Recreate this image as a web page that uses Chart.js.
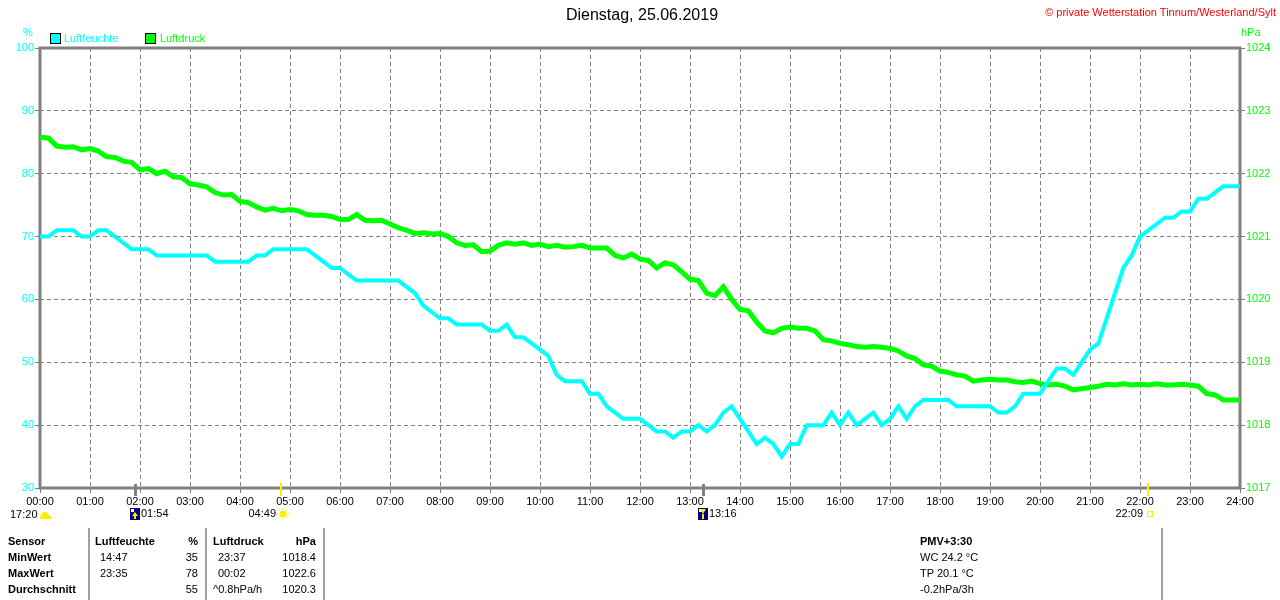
<!DOCTYPE html>
<html>
<head>
<meta charset="utf-8">
<script src="https://cdn.jsdelivr.net/npm/chart.js@4"></script>
<style>
  body { margin: 0; background: #fff; }
  #wrap { position: relative; width: 1280px; height: 600px; font-family: "Liberation Sans", Arial, sans-serif; font-size: 11px; }
  #wrap canvas { position: absolute; left: 0; top: 0; }
  .t { position: absolute; white-space: nowrap; line-height: 16px; }
  .b { font-weight: bold; }
  .r { text-align: right; }
  .sep { position: absolute; top: 528px; width: 2px; height: 72px; background: #a0a0a0; }
  .box { position: absolute; width: 9px; height: 9px; border: 1px solid #000; }
</style>
</head>
<body>
<div id="wrap">
  <canvas id="chart" width="1280" height="600"></canvas>

  <div class="t" style="left:0;width:1284px;top:6px;text-align:center;font-size:16px;line-height:18px;">Dienstag, 25.06.2019</div>
  <div class="t" style="right:4px;top:4px;color:#ff0000;">© private Wetterstation Tinnum/Westerland/Sylt</div>

  <div class="t" style="left:23px;top:24px;color:#00ffff;">%</div>
  <div class="t" style="left:1241px;top:24px;color:#00ff00;">hPa</div>

  <div class="box" style="left:50px;top:33px;background:#00ffff;"></div>
  <div class="t" style="left:64px;top:30px;color:#00ffff;">Luftfeuchte</div>
  <div class="box" style="left:145px;top:33px;background:#00ff00;"></div>
  <div class="t" style="left:160px;top:30px;color:#00ff00;">Luftdruck</div>

  <div class="t" style="left:10px;top:506px;">17:20</div>

  <div class="sep" style="left:88px;"></div>
  <div class="sep" style="left:205px;"></div>
  <div class="sep" style="left:323px;"></div>
  <div class="sep" style="left:1161px;"></div>

  <div class="t b" style="left:8px;top:533px;">Sensor</div>
  <div class="t b" style="left:8px;top:549px;">MinWert</div>
  <div class="t b" style="left:8px;top:565px;">MaxWert</div>
  <div class="t b" style="left:8px;top:581px;">Durchschnitt</div>

  <div class="t b" style="left:95px;top:533px;">Luftfeuchte</div>
  <div class="t b r" style="left:150px;width:48px;top:533px;">%</div>
  <div class="t" style="left:100px;top:549px;">14:47</div>
  <div class="t r" style="left:150px;width:48px;top:549px;">35</div>
  <div class="t" style="left:100px;top:565px;">23:35</div>
  <div class="t r" style="left:150px;width:48px;top:565px;">78</div>
  <div class="t r" style="left:150px;width:48px;top:581px;">55</div>

  <div class="t b" style="left:213px;top:533px;">Luftdruck</div>
  <div class="t b r" style="left:260px;width:56px;top:533px;">hPa</div>
  <div class="t" style="left:218px;top:549px;">23:37</div>
  <div class="t r" style="left:260px;width:56px;top:549px;">1018.4</div>
  <div class="t" style="left:218px;top:565px;">00:02</div>
  <div class="t r" style="left:260px;width:56px;top:565px;">1022.6</div>
  <div class="t" style="left:213px;top:581px;">^0.8hPa/h</div>
  <div class="t r" style="left:260px;width:56px;top:581px;">1020.3</div>

  <div class="t b" style="left:920px;top:533px;">PMV+3:30</div>
  <div class="t" style="left:920px;top:549px;">WC 24.2 °C</div>
  <div class="t" style="left:920px;top:565px;">TP 20.1 °C</div>
  <div class="t" style="left:920px;top:581px;">-0.2hPa/3h</div>
</div>

<script>
// readings every 10 minutes, 00:00 .. 24:00
const STEP_MIN = 10;

const humidity = [
  70, 70, 71, 71, 71, 70,   // 00
  70, 71, 71, 70, 69, 68,   // 01
  68, 68, 67, 67, 67, 67,   // 02
  67, 67, 67, 66, 66, 66,   // 03
  66, 66, 67, 67, 68, 68,   // 04
  68, 68, 68, 67, 66, 65,   // 05
  65, 64, 63, 63, 63, 63,   // 06
  63, 63, 62, 61, 59, 58,   // 07
  57, 57, 56, 56, 56, 56,   // 08
  55, 55, 56, 54, 54, 53,   // 09
  52, 51, 48, 47, 47, 47,   // 10
  45, 45, 43, 42, 41, 41,   // 11
  41, 40, 39, 39, 38, 39,   // 12
  39, 40, 39, 40, 42, 43,   // 13
  41, 39, 37, 38, 37, 35,   // 14
  37, 37, 40, 40, 40, 42,   // 15
  40, 42, 40, 41, 42, 40,   // 16
  41, 43, 41, 43, 44, 44,   // 17
  44, 44, 43, 43, 43, 43,   // 18
  43, 42, 42, 43, 45, 45,   // 19
  45, 47, 49, 49, 48, 50,   // 20
  52, 53, 57, 61, 65, 67,   // 21
  70, 71, 72, 73, 73, 74,   // 22
  74, 76, 76, 77, 78, 78,   // 23
  78
];

const pressure = [
  1022.58, 1022.57, 1022.44, 1022.42, 1022.43, 1022.38,   // 00
  1022.40, 1022.36, 1022.27, 1022.26, 1022.20, 1022.18,   // 01
  1022.06, 1022.08, 1022.00, 1022.04, 1021.95, 1021.94,   // 02
  1021.84, 1021.82, 1021.79, 1021.70, 1021.66, 1021.67,   // 03
  1021.56, 1021.54, 1021.47, 1021.42, 1021.45, 1021.41,   // 04
  1021.43, 1021.41, 1021.35, 1021.34, 1021.34, 1021.32,   // 05
  1021.27, 1021.27, 1021.35, 1021.26, 1021.25, 1021.26,   // 06
  1021.20, 1021.14, 1021.10, 1021.05, 1021.06, 1021.04,   // 07
  1021.05, 1021.00, 1020.90, 1020.86, 1020.87, 1020.76,   // 08
  1020.77, 1020.86, 1020.90, 1020.88, 1020.90, 1020.86,   // 09
  1020.88, 1020.84, 1020.86, 1020.83, 1020.84, 1020.86,   // 10
  1020.82, 1020.82, 1020.82, 1020.70, 1020.66, 1020.72,   // 11
  1020.64, 1020.62, 1020.50, 1020.58, 1020.55, 1020.44,   // 12
  1020.32, 1020.30, 1020.10, 1020.06, 1020.20, 1020.00,   // 13
  1019.84, 1019.82, 1019.64, 1019.50, 1019.47, 1019.54,   // 14
  1019.56, 1019.54, 1019.54, 1019.50, 1019.36, 1019.34,   // 15
  1019.30, 1019.28, 1019.25, 1019.24, 1019.25, 1019.24,   // 16
  1019.22, 1019.18, 1019.10, 1019.06, 1018.96, 1018.94,   // 17
  1018.86, 1018.84, 1018.80, 1018.78, 1018.70, 1018.72,   // 18
  1018.73, 1018.72, 1018.72, 1018.69, 1018.68, 1018.70,   // 19
  1018.66, 1018.64, 1018.65, 1018.62, 1018.56, 1018.58,   // 20
  1018.60, 1018.62, 1018.65, 1018.64, 1018.66, 1018.64,   // 21
  1018.65, 1018.64, 1018.66, 1018.64, 1018.64, 1018.65,   // 22
  1018.64, 1018.62, 1018.50, 1018.48, 1018.40, 1018.40,   // 23
  1018.40
];

const hourLabels = [
  '00:00', '01:00', '02:00', '03:00', '04:00', '05:00', '06:00', '07:00', '08:00',
  '09:00', '10:00', '11:00', '12:00', '13:00', '14:00', '15:00', '16:00', '17:00',
  '18:00', '19:00', '20:00', '21:00', '22:00', '23:00', '24:00'
];

// moon / sun rise and set, minutes after midnight
const eventMinutes = [114, 289, 796, 1329];
const eventLabels = ['01:54', '04:49', '13:16', '22:09'];
const eventKinds = ['moonrise', 'sunrise', 'moonset', 'sunset'];

const toPoints = arr => arr.map((v, i) => ({ x: i * STEP_MIN, y: v }));

const frameAndMarkers = {
    id: 'frameAndMarkers',
    beforeDatasetsDraw(chart) {
        const { ctx, chartArea: a } = chart;
        ctx.save();
        ctx.strokeStyle = '#808080';
        ctx.lineWidth = 3;
        ctx.strokeRect(a.left, a.top, a.right - a.left, a.bottom - a.top);
        ctx.restore();
    },
    afterDraw(chart) {
        const { ctx, chartArea: a } = chart;
        const xs = chart.scales.x;
        ctx.save();
        ctx.font = '11px "Liberation Sans", Arial, sans-serif';
        ctx.textBaseline = 'middle';
        ctx.fillStyle = '#000';

        // little cloud next to 17:20
        ctx.fillStyle = '#ffee00';
        ctx.beginPath();
        ctx.arc(a.left + 5, a.bottom + 28, 4, Math.PI, 0);
        ctx.fill();
        ctx.fillRect(a.left, a.bottom + 28, 11, 3);

        eventKinds.forEach((kind, i) => {
            const x = Math.round(xs.getPixelForValue(eventMinutes[i]));
            const ly = a.bottom + 26;
            if (kind.startsWith('moon')) {
                ctx.fillStyle = '#808080';
                ctx.fillRect(x - 1, a.bottom - 4, 3, 12);
                ctx.fillStyle = '#000080';
                ctx.fillRect(x - 5, ly - 6, 10, 12);
                ctx.fillStyle = '#ffffff';
                ctx.fillRect(x - 4, ly - 5, 3, 3);
                ctx.fillStyle = '#ffee00';
                ctx.beginPath();
                if (kind === 'moonrise') {
                    ctx.moveTo(x, ly - 2); ctx.lineTo(x - 3, ly + 2); ctx.lineTo(x + 3, ly + 2);
                } else {
                    ctx.moveTo(x - 3, ly - 5); ctx.lineTo(x + 3, ly - 5); ctx.lineTo(x, ly);
                }
                ctx.fill();
                ctx.fillRect(x - 1, ly, 2, 5);
                ctx.fillStyle = '#000';
                ctx.textAlign = 'left';
                ctx.fillText(eventLabels[i], x + 6, ly);
            } else {
                ctx.fillStyle = '#ffee00';
                ctx.fillRect(x - 1, a.bottom - 5, 2, 13);
                if (kind === 'sunrise') {
                    ctx.beginPath();
                    ctx.arc(x + 2, ly, 3.5, 0, Math.PI * 2);
                    ctx.fill();
                    ctx.strokeStyle = '#ffee00';
                    ctx.lineWidth = 1;
                    for (let k = 0; k < 8; k++) {
                        const ang = k * Math.PI / 4;
                        ctx.beginPath();
                        ctx.moveTo(x + 2 + Math.cos(ang) * 4.5, ly + Math.sin(ang) * 4.5);
                        ctx.lineTo(x + 2 + Math.cos(ang) * 6, ly + Math.sin(ang) * 6);
                        ctx.stroke();
                    }
                } else {
                    ctx.strokeStyle = '#ffee00';
                    ctx.lineWidth = 1;
                    ctx.strokeRect(x - 0.5, ly - 2.5, 5, 5);
                }
                ctx.fillStyle = '#000';
                ctx.textAlign = 'right';
                ctx.fillText(eventLabels[i], x - 5, ly);
            }
        });
        ctx.restore();
    }
};

const tickFont = { family: '"Liberation Sans", Arial, sans-serif', size: 11 };

new Chart(document.getElementById('chart').getContext('2d'), {
    type: 'line',
    data: {
        datasets: [{
            label: 'Luftfeuchte',
            data: toPoints(humidity),
            yAxisID: 'yH',
            borderColor: '#00ffff',
            borderWidth: 4,
            borderJoinStyle: 'miter',
            pointRadius: 0
        }, {
            label: 'Luftdruck',
            data: toPoints(pressure),
            yAxisID: 'yP',
            borderColor: '#00ff00',
            borderWidth: 5,
            borderJoinStyle: 'miter',
            pointRadius: 0
        }]
    },
    options: {
        responsive: false,
        animation: false,
        devicePixelRatio: 1,
        layout: { padding: { top: 48, left: 0, right: 0, bottom: 0 } },
        plugins: {
            legend: { display: false },
            tooltip: { enabled: false }
        },
        scales: {
            x: {
                type: 'linear',
                min: 0,
                max: 1440,
                afterFit: s => { s.height = 112; },
                ticks: {
                    stepSize: 60,
                    autoSkip: false,
                    maxRotation: 0,
                    color: '#000',
                    font: tickFont,
                    padding: 2,
                    callback: v => hourLabels[v / 60]
                },
                grid: {
                    color: '#808080',
                    tickLength: 5,
                    tickBorderDash: []
                },
                border: { display: false, dash: [4, 3] }
            },
            yH: {
                position: 'left',
                min: 30,
                max: 100,
                afterFit: s => { s.width = 40; },
                ticks: {
                    stepSize: 10,
                    color: '#00ffff',
                    font: tickFont,
                    padding: 1
                },
                grid: {
                    color: '#808080',
                    tickLength: 5,
                    tickBorderDash: []
                },
                border: { display: false, dash: [4, 3] }
            },
            yP: {
                position: 'right',
                min: 1017,
                max: 1024,
                afterFit: s => { s.width = 40; },
                ticks: {
                    stepSize: 1,
                    color: '#00ff00',
                    font: tickFont,
                    padding: 1,
                    callback: v => String(v)
                },
                grid: {
                    drawOnChartArea: false,
                    color: '#808080',
                    tickLength: 5
                },
                border: { display: false }
            }
        }
    },
    plugins: [frameAndMarkers]
});
</script>
</body>
</html>
